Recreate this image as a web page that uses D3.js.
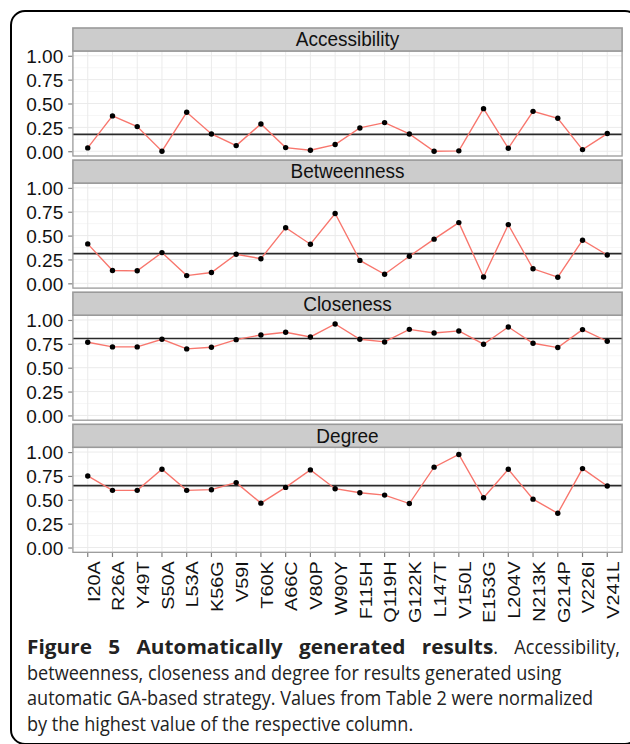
<!DOCTYPE html>
<html>
<head>
<meta charset="utf-8">
<script src="https://cdn.jsdelivr.net/npm/d3@7"></script>
<style>
  html, body { margin: 0; padding: 0; background: #fff; }
  svg { display: block; }
</style>
</head>
<body>
<div id="container"></div>
<script>
// data (values normalised by column maximum)
var mutations = ["I20A", "R26A", "Y49T", "S50A", "L53A", "K56G", "V59I", "T60K", "A66C", "V80P", "W90Y",
                 "F115H", "Q119H", "G122K", "L147T", "V150L", "E153G", "L204V", "N213K", "G214P", "V226I", "V241L"];

var accessibility = [0.035, 0.37, 0.258, 0.0, 0.408, 0.181, 0.059, 0.286, 0.038, 0.01, 0.07,
                     0.244, 0.30, 0.181, 0.0, 0.004, 0.446, 0.031, 0.418, 0.345, 0.017, 0.185];
var betweenness = [0.413, 0.134, 0.131, 0.322, 0.081, 0.113, 0.305, 0.258, 0.583, 0.41, 0.731,
                   0.24, 0.095, 0.283, 0.463, 0.636, 0.067, 0.615, 0.152, 0.064, 0.452, 0.297];
var closeness = [0.767, 0.718, 0.718, 0.798, 0.697, 0.714, 0.794, 0.843, 0.871, 0.822, 0.958,
                 0.798, 0.770, 0.902, 0.864, 0.885, 0.746, 0.927, 0.756, 0.711, 0.899, 0.777];
var degree = [0.75, 0.599, 0.599, 0.82, 0.599, 0.606, 0.68, 0.465, 0.63, 0.813, 0.616,
              0.574, 0.549, 0.461, 0.842, 0.975, 0.521, 0.82, 0.507, 0.359, 0.827, 0.644];

var facetNames = ["Accessibility", "Betweenness", "Closeness", "Degree"];
var facetValues = [accessibility, betweenness, closeness, degree];

var yTicks = [0, 0.25, 0.5, 0.75, 1];
var yMinor = [0.125, 0.375, 0.625, 0.875];

var captionBold = ["Figure", "5", "Automatically", "generated", "results"];
var captionLines = [
  "betweenness, closeness and degree for results generated using",
  "automatic GA-based strategy. Values from Table 2 were normalized",
  "by the highest value of the respective column."
];

var width = 630, height = 744;

var svg = d3.select("div#container")
  .append("svg")
  .attr("width", width)
  .attr("height", height)
  .attr("viewBox", "0 0 " + width + " " + height);

// outer frame of the figure box (right and bottom run off the page)
svg.append("rect")
  .attr("x", 11).attr("y", 11)
  .attr("width", 628).attr("height", 733)
  .attr("rx", 14).attr("ry", 14)
  .attr("fill", "none")
  .attr("stroke", "#000")
  .attr("stroke-width", 2);

///////////layout/////////////////////////
var panelLeft = 72.9, panelRight = 622.1;
var firstStripTop = 28, facetStep = 132.1, stripH = 23, panelH = 105;

var x = d3.scalePoint()
  .domain(mutations)
  .range([panelLeft, panelRight])
  .padding(0.6);

var gridCol = "#ebebeb", minorCol = "#f6f6f6", borderCol = "#9a9a9a";
var axisFont = "'Liberation Sans', Arial, Helvetica, sans-serif";

facetNames.forEach(function(name, i) {
  var stripTop = firstStripTop + i * facetStep;
  var pTop = stripTop + stripH;
  var pBottom = pTop + panelH;
  var vals = facetValues[i];

  var y = d3.scaleLinear()
    .domain([-0.05, 1.05])
    .range([pBottom, pTop]);

  var g = svg.append("g").attr("class", "facet");

  // panel background
  g.append("rect")
    .attr("x", panelLeft).attr("y", pTop)
    .attr("width", panelRight - panelLeft).attr("height", panelH)
    .attr("fill", "#fff");

  // minor grid
  g.selectAll("line.minor")
    .data(yMinor)
    .enter().append("line")
    .attr("class", "minor")
    .attr("x1", panelLeft).attr("x2", panelRight)
    .attr("y1", function(d) { return y(d); })
    .attr("y2", function(d) { return y(d); })
    .attr("stroke", minorCol).attr("stroke-width", 1);

  // major grid
  g.selectAll("line.hgrid")
    .data(yTicks)
    .enter().append("line")
    .attr("class", "hgrid")
    .attr("x1", panelLeft).attr("x2", panelRight)
    .attr("y1", function(d) { return y(d); })
    .attr("y2", function(d) { return y(d); })
    .attr("stroke", gridCol).attr("stroke-width", 1);

  g.selectAll("line.vgrid")
    .data(mutations)
    .enter().append("line")
    .attr("class", "vgrid")
    .attr("x1", function(d) { return x(d); })
    .attr("x2", function(d) { return x(d); })
    .attr("y1", pTop).attr("y2", pBottom)
    .attr("stroke", gridCol).attr("stroke-width", 1);

  // mean line
  var mean = d3.mean(vals);
  g.append("line")
    .attr("x1", panelLeft).attr("x2", panelRight)
    .attr("y1", y(mean)).attr("y2", y(mean))
    .attr("stroke", "#2a2a2a").attr("stroke-width", 1.6);

  // series line
  var line = d3.line()
    .x(function(d, j) { return x(mutations[j]); })
    .y(function(d) { return y(d); });

  g.append("path")
    .datum(vals)
    .attr("d", line)
    .attr("fill", "none")
    .attr("stroke", "#F8766D")
    .attr("stroke-width", 1.35);

  g.selectAll("circle")
    .data(vals)
    .enter().append("circle")
    .attr("cx", function(d, j) { return x(mutations[j]); })
    .attr("cy", function(d) { return y(d); })
    .attr("r", 2.7)
    .attr("fill", "#000");

  // panel border
  g.append("rect")
    .attr("x", panelLeft).attr("y", pTop)
    .attr("width", panelRight - panelLeft).attr("height", panelH)
    .attr("fill", "none")
    .attr("stroke", borderCol).attr("stroke-width", 1.3);

  // strip
  g.append("rect")
    .attr("x", panelLeft).attr("y", stripTop)
    .attr("width", panelRight - panelLeft).attr("height", stripH)
    .attr("fill", "#cccccc")
    .attr("stroke", borderCol).attr("stroke-width", 1.6);

  g.append("text")
    .attr("transform", "translate(" + ((panelLeft + panelRight) / 2) + "," + (stripTop + stripH / 2 + 6.8) + ") scale(1,1.08)")
    .attr("text-anchor", "middle")
    .style("font-family", axisFont)
    .style("font-size", "19px")
    .attr("fill", "#111")
    .text(name);

  // y axis
  var yAxis = d3.axisLeft(y)
    .tickValues(yTicks)
    .tickSize(4)
    .tickPadding(5)
    .tickFormat(d3.format(".2f"));

  var ya = g.append("g")
    .attr("transform", "translate(" + (panelLeft - 0.7) + ",0)")
    .call(yAxis);
  ya.select(".domain").remove();
  ya.selectAll(".tick line").attr("stroke", "#7f7f7f").attr("stroke-width", 1.2);
  ya.selectAll(".tick text")
    .attr("fill", "#111")
    .style("font-family", axisFont)
    .style("font-size", "19px")
    .attr("dy", "0.36em");

  // x axis only on the bottom facet
  if (i === facetNames.length - 1) {
    var xa = g.append("g").attr("class", "xaxis");
    xa.selectAll("line")
      .data(mutations)
      .enter().append("line")
      .attr("x1", function(d) { return x(d); })
      .attr("x2", function(d) { return x(d); })
      .attr("y1", pBottom + 0.7).attr("y2", pBottom + 4.7)
      .attr("stroke", "#7f7f7f").attr("stroke-width", 1.2);

    xa.selectAll("text")
      .data(mutations)
      .enter().append("text")
      .attr("transform", function(d) {
        return "translate(" + (x(d) + 11.8) + "," + (pBottom + 9) + ") rotate(-90) scale(1.24,1)";
      })
      .attr("text-anchor", "end")
      .style("font-family", axisFont)
      .style("font-size", "16px")
      .attr("fill", "#111")
      .text(function(d) { return d; });
  }
});

///////////caption/////////////////////////
var capFont = "'Open Sans', 'Noto Sans', sans-serif";
var capSize = 18.1, capStretch = 1.08, boldWiden = 1.15;
var capLeft = 27, capRight = 620;
var baselines = [654, 679.6, 705, 730.6];

// first line is justified: bold words, then ". Accessibility,"
var line1 = svg.append("g");
var words = captionBold.map(function(w, k) {
  return { text: w, bold: true, tail: k === captionBold.length - 1 ? "." : "" };
});
words.push({ text: "Accessibility,", bold: false, tail: "" });

var wordNodes = words.map(function(w) {
  var t = line1.append("text")
    .style("font-family", capFont)
    .style("font-size", capSize + "px")
    .attr("fill", "#222");
  t.append("tspan")
    .style("font-weight", w.bold ? "bold" : "normal")
    .text(w.text);
  return t;
});

var sx = words.map(function(w) { return w.bold ? boldWiden : 1; });
var widths = wordNodes.map(function(t, k) { return t.node().getComputedTextLength() * sx[k]; });

// trailing full stop after the bold title, in regular weight
var stop = line1.append("text")
  .style("font-family", capFont)
  .style("font-size", capSize + "px")
  .attr("fill", "#222")
  .text(".");
var stopW = stop.node().getComputedTextLength();

var gap = (capRight - capLeft - d3.sum(widths) - stopW) / (words.length - 1);
var cx = capLeft;
wordNodes.forEach(function(t, k) {
  t.attr("transform", "translate(" + cx + "," + baselines[0] + ") scale(" + sx[k] + "," + capStretch + ")");
  cx += widths[k];
  if (words[k].tail) {
    stop.attr("transform", "translate(" + cx + "," + baselines[0] + ") scale(1," + capStretch + ")");
    cx += stopW;
  }
  cx += gap;
});

captionLines.forEach(function(s, k) {
  svg.append("text")
    .attr("transform", "translate(" + capLeft + "," + baselines[k + 1] + ") scale(1," + capStretch + ")")
    .style("font-family", capFont)
    .style("font-size", capSize + "px")
    .attr("fill", "#222")
    .text(s);
});
</script>
</body>
</html>
